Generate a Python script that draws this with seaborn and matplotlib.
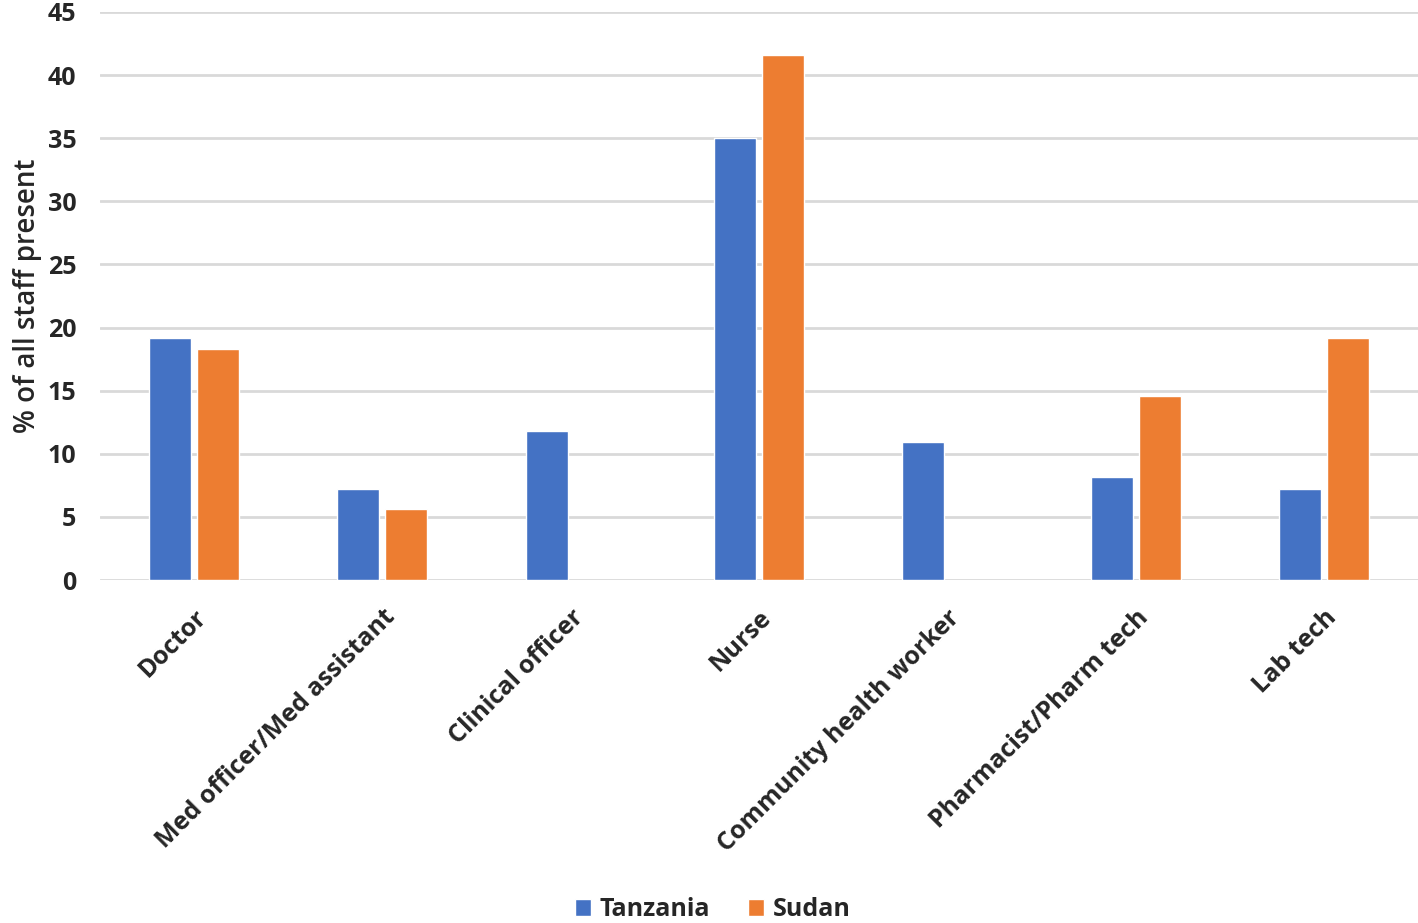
import numpy as np
import pandas as pd
import matplotlib.pyplot as plt
import seaborn as sns

categories = ['Doctor', 'Med officer/Med assistant', 'Clinical officer', 'Nurse',
              'Community health worker', 'Pharmacist/Pharm tech', 'Lab tech']
tanzania = [19.2, 7.2, 11.8, 35.0, 10.9, 8.2, 7.2]
sudan = [18.3, 5.6, np.nan, 41.6, np.nan, 14.6, 19.2]
countries = ['Tanzania', 'Sudan']
colors = ['#4472C4', '#ED7D31']

df = pd.DataFrame({
    'Cadre': categories * 2,
    'Country': ['Tanzania'] * len(categories) + ['Sudan'] * len(categories),
    'Value': tanzania + sudan,
}).dropna()

sns.set_style('white')
plt.rcParams['font.family'] = ['Open Sans', 'DejaVu Sans']

fig = plt.figure(figsize=(14.18, 9.23), dpi=100)
ax = fig.add_axes([0.0705, 0.3716, 0.9295, 0.6154])

sns.barplot(data=df, x='Cadre', y='Value', hue='Country', order=categories,
            hue_order=countries, palette=colors, width=0.51, gap=0.125,
            saturation=1, ax=ax, legend=True)

ax.set_ylim(0, 45)
ax.set_xlim(-0.5, 6.5)
ax.set_yticks(range(0, 46, 5))
ax.yaxis.grid(True, color='#D9D9D9', linewidth=2)
ax.set_axisbelow(True)
sns.despine(ax=ax, left=True, bottom=True)
ax.tick_params(axis='both', length=0)
ax.tick_params(axis='y', pad=17)
ax.tick_params(axis='x', pad=18)

for lbl in ax.get_yticklabels():
    lbl.set_fontsize(18)
    lbl.set_fontweight('bold')
ax.set_xticks(range(len(categories)))
ax.set_xticklabels(categories, rotation=45, ha='right', rotation_mode='anchor',
                   fontsize=18, fontweight='bold')

ax.set_xlabel('')
ax.set_ylabel('% of all staff present', fontsize=20, fontweight='semibold', labelpad=4)

ax.legend(loc='lower center', bbox_to_anchor=(0.465, -0.642), ncol=2,
          frameon=False, handlelength=0.65, handleheight=0.65, handletextpad=0.35,
          columnspacing=1.5, prop={'size': 18, 'weight': 'bold'})

fig.savefig('out.png', dpi=100)
